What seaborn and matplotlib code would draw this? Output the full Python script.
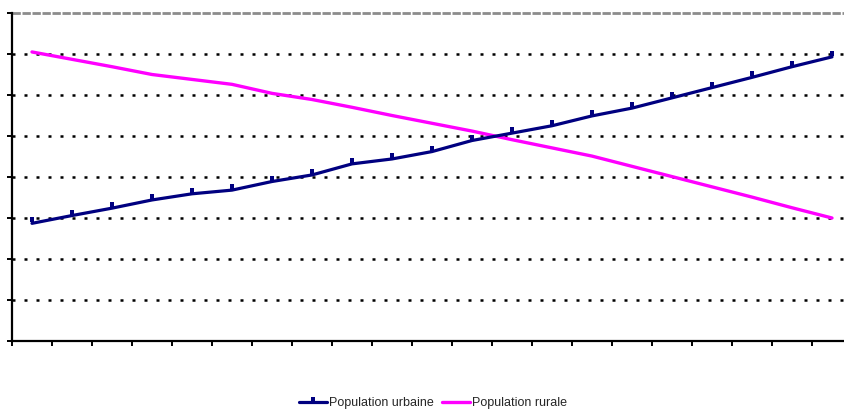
import numpy as np
import pandas as pd
import matplotlib
matplotlib.use("Agg")
import matplotlib.pyplot as plt
import seaborn as sns

# Part de la population (%), 21 observations successives
periodes = list(range(1, 22))
population_urbaine = [28.7, 30.6, 32.4, 34.4, 35.9, 36.8, 38.9, 40.5, 43.2, 44.4, 46.2,
                      48.9, 50.7, 52.5, 54.9, 56.8, 59.3, 61.8, 64.3, 66.9, 69.3]
population_rurale = [70.5, 68.7, 66.9, 65.0, 63.8, 62.6, 60.4, 58.9, 57.0, 55.0, 53.1,
                     51.2, 49.1, 47.1, 45.1, 42.6, 40.1, 37.6, 35.1, 32.5, 30.0]
y_ticks = [0, 10, 20, 30, 40, 50, 60, 70, 80]

df = pd.DataFrame({
    "periode": periodes * 2,
    "valeur": population_urbaine + population_rurale,
    "serie": ["Population urbaine"] * len(periodes) + ["Population rurale"] * len(periodes),
})

sns.set_theme(style="white")
plt.rcParams["font.family"] = ["Liberation Sans", "DejaVu Sans"]

W, H = 845, 409
fig = plt.figure(figsize=(W / 100, H / 100), dpi=100)
left, right, top, bottom = 12, 852, 13, 341
ax = fig.add_axes([left / W, (H - bottom) / H, (right - left) / W, (bottom - top) / H])

# small raised tick marker used on the urban series
tick_marker = [(-0.35, 0.15), (0.35, 0.15), (0.35, 1.0), (-0.35, 1.0), (-0.35, 0.15)]

urb = df[df["serie"] == "Population urbaine"]
rur = df[df["serie"] == "Population rurale"]
sns.lineplot(data=urb, x="periode", y="valeur", ax=ax, color="#000080", lw=2.3,
             marker=tick_marker, markersize=9, markeredgewidth=0,
             markerfacecolor="#000080", label="Population urbaine", zorder=4)
sns.lineplot(data=rur, x="periode", y="valeur", ax=ax, color="#FF00FF", lw=2.4,
             label="Population rurale", zorder=3)

ax.set_xlim(0.5, 21.5)
ax.set_ylim(0, 80)
ax.set_xticks(np.arange(0.5, 22.0, 1.0))
ax.set_yticks(y_ticks)
ax.set_xticklabels([])
ax.set_yticklabels([])
ax.set_xlabel("")
ax.set_ylabel("")

# dotted horizontal gridlines, grey line at the top
for v in y_ticks[1:-1]:
    ax.axhline(v, color="black", lw=1.8, linestyle=(0, (1.2, 3.6)), zorder=1)
ax.axhline(80, color="#8c8c8c", lw=2.0, linestyle=(0, (3.0, 0.6)), zorder=1, clip_on=False)

for s in ["top", "right"]:
    ax.spines[s].set_visible(False)
for s in ["left", "bottom"]:
    ax.spines[s].set_color("black")
    ax.spines[s].set_linewidth(1.6)
ax.tick_params(axis="both", which="major", direction="out", length=3.5, width=1.4,
               color="black", left=True, bottom=True)

handles, labels = ax.get_legend_handles_labels()
ax.legend_.remove()
fig.legend(handles, labels, loc="center", bbox_to_anchor=(433 / W, 1 - 403 / H),
           ncol=2, frameon=False, fontsize=9, handlelength=2.2, handletextpad=0.15,
           columnspacing=0.7, borderaxespad=0, markerscale=0.8)

fig.savefig("out.png", dpi=100)
